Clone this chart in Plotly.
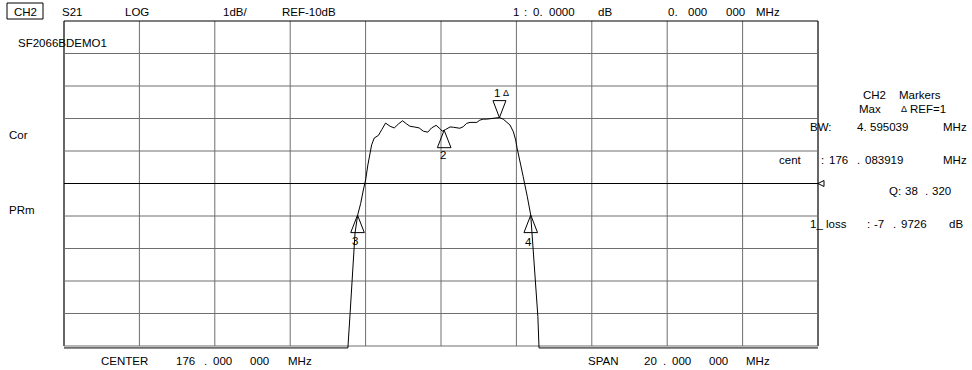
import plotly.graph_objects as go

# ---------------- data ----------------
CENTER_MHZ = 176.0
SPAN_MHZ = 20.0
REF_DB = -10.0
DB_PER_DIV = 1.0

FREQ_MHZ = [166.00, 173.53, 173.59, 173.66, 173.72, 173.79, 173.87, 173.94, 174.00, 174.06,
            174.12, 174.16, 174.23, 174.34, 174.43, 174.53, 174.65, 174.76, 174.87, 174.98,
            175.09, 175.18, 175.29, 175.42, 175.53, 175.65, 175.75, 175.87, 175.97, 176.03,
            176.12, 176.24, 176.33, 176.42, 176.50, 176.59, 176.68, 176.77, 176.86, 176.95,
            177.03, 177.12, 177.21, 177.30, 177.43, 177.55, 177.65, 177.74, 177.83, 177.92,
            177.98, 178.02, 178.07, 178.12, 178.18, 178.23, 178.29, 178.38, 178.41, 178.45,
            178.51, 178.57, 178.60, 186.00]
S21_DB = [-15.06, -15.06, -13.98, -12.45, -11.52, -10.97, -10.61, -10.20, -9.89, -9.43,
          -9.03, -8.81, -8.60, -8.52, -8.34, -8.14, -8.24, -8.29, -8.17, -8.07,
          -8.17, -8.24, -8.26, -8.29, -8.39, -8.42, -8.29, -8.21, -8.31, -8.39,
          -8.34, -8.26, -8.27, -8.28, -8.30, -8.25, -8.15, -8.12, -8.13, -8.12,
          -8.05, -8.02, -8.02, -8.01, -7.98, -7.97, -8.02, -8.10, -8.20, -8.41,
          -8.66, -8.92, -9.15, -9.46, -9.79, -10.05, -10.41, -10.97, -11.52, -12.05,
          -13.07, -14.10, -15.06, -15.06]

MARKER_IDS = ["1", "2", "3", "4"]
MARKER_FREQ = [177.55, 176.084, 173.786, 178.381]
MARKER_DB = [-7.9726, -8.36, -10.9726, -10.9726]

# ---------------- layout geometry ----------------
W, H = 972, 370
PL, PR, PT, PB = 63, 826, 20, 349          # plot area in pixels
GX0, GX1, GY0, GY1 = 64, 818, 21, 346      # graticule in pixels
xs = (GX1 - GX0) / SPAN_MHZ                # px per MHz
ys = (GY1 - GY0) / (10 * DB_PER_DIV)       # px per dB
f0 = CENTER_MHZ - SPAN_MHZ / 2
f1 = CENTER_MHZ + SPAN_MHZ / 2
top_db = REF_DB + 5 * DB_PER_DIV
bot_db = REF_DB - 5 * DB_PER_DIV
xrange = [f0 - (GX0 - PL) / xs, f0 + (PR - GX0) / xs]
yrange = [top_db - (PB - GY0) / ys, top_db + (GY0 - PT) / ys]
x_grid = [f0 + i * SPAN_MHZ / 10 for i in range(11)]
y_grid = [bot_db + i * DB_PER_DIV for i in range(11)]

FONT = "Liberation Sans, Arial, sans-serif"
FS = 11.5
GRID = "#6e6e6e"


def X(p):
    return (p - PL) / (PR - PL)


def Y(p):
    return (PB - p) / (PB - PT)


fig = go.Figure()
fig.add_trace(go.Scatter(x=FREQ_MHZ, y=S21_DB, mode="lines",
                         line=dict(color="black", width=1), hoverinfo="skip"))

shapes = []
# graticule
for gx in x_grid:
    edge = gx in (f0, f1)
    shapes.append(dict(type="line", xref="x", yref="y", x0=gx, x1=gx, y0=bot_db, y1=top_db,
                       line=dict(color="black" if edge else GRID, width=1.2 if edge else 1),
                       layer="between"))
for gy in y_grid:
    strong = gy in (top_db, REF_DB)
    shapes.append(dict(type="line", xref="x", yref="y", x0=f0, x1=f1, y0=gy, y1=gy,
                       line=dict(color="black" if strong else GRID, width=1.2 if strong else 1),
                       layer="between"))

# marker triangles (pixel-sized, anchored on the marker data points)
for mid, mf, md in zip(MARKER_IDS, MARKER_FREQ, MARKER_DB):
    if mid == "1":
        path = "M -6.5 17 L 6.5 17 L 0 0 Z"
    else:
        path = "M -6.8 -17.5 L 6.8 -17.5 L 0 0 Z"
    shapes.append(dict(type="path", xref="x", yref="y", xsizemode="pixel", ysizemode="pixel",
                       xanchor=mf, yanchor=md, path=path,
                       line=dict(color="black", width=1), fillcolor="rgba(0,0,0,0)"))
# reference position marker
shapes.append(dict(type="path", xref="x", yref="y", xsizemode="pixel", ysizemode="pixel",
                   xanchor=f1, yanchor=REF_DB, path="M 0 0 L 6 3 L 6 -3 Z",
                   line=dict(color="black", width=1), fillcolor="rgba(0,0,0,0)"))
# CH2 box
shapes.append(dict(type="rect", xref="paper", yref="paper", x0=X(7), x1=X(43), y0=Y(19), y1=Y(3),
                   line=dict(color="black", width=1)))

TEXTS = [
    ("CH2", 12, 12), ("S21", 60, 12), ("LOG", 123, 12), ("1dB/", 221, 12), ("REF-10dB", 280, 12),
    ("1", 511, 12), (":", 522, 12), ("0.", 531, 12), ("0000", 547, 12), ("dB", 596, 12),
    ("0.", 666, 12), ("000", 686, 12), ("000", 724, 12), ("MHz", 754, 12),
    ("SF2066BDEMO1", 16, 43), ("Cor", 7, 135), ("PRm", 7, 210),
    ("CH2", 861, 95), ("Markers", 897, 95),
    ("Max", 857, 109), ("REF=1", 908, 109),
    ("BW:", 808, 127), ("4.", 855, 127), ("595039", 868, 127), ("MHz", 941, 127),
    ("cent", 777, 160), (":", 819, 160), ("176", 827, 160), (".", 855, 160), ("083919", 863, 160),
    ("MHz", 941, 160),
    ("Q:", 887, 191), ("38", 903, 191), (".", 923, 191), ("320", 930, 191),
    ("1_ loss", 808, 224), (":", 865, 224), ("-7", 872, 224), (".", 891, 224), ("9726", 899, 224),
    ("dB", 947, 224),
    ("CENTER", 99, 361), ("176", 174, 361), (".", 202, 361), ("000", 211, 361), ("000", 248, 361),
    ("MHz", 286, 361),
    ("SPAN", 586, 361), ("20", 642, 361), (".", 661, 361), ("000", 670, 361), ("000", 707, 361),
    ("MHz", 744, 361),
]

annotations = []
for t, xp, yp in TEXTS:
    annotations.append(dict(text=t, x=X(xp), y=Y(yp), xref="paper", yref="paper",
                            xanchor="left", yanchor="middle", showarrow=False,
                            font=dict(family=FONT, size=FS, color="black")))
annotations.append(dict(text="Δ", x=X(899), y=Y(109), xref="paper", yref="paper",
                        xanchor="left", yanchor="middle", showarrow=False,
                        font=dict(family=FONT, size=9, color="black")))

# marker labels (offset in pixels from the marker points)
LABEL_OFFSETS = {"1": (-2, 25), "2": (-1, -25), "3": (-3, -26), "4": (-2, -27)}
for mid, mf, md in zip(MARKER_IDS, MARKER_FREQ, MARKER_DB):
    dx, dy = LABEL_OFFSETS[mid]
    annotations.append(dict(text=mid, x=mf, y=md, xref="x", yref="y", xshift=dx, yshift=dy,
                            xanchor="center", yanchor="middle", showarrow=False,
                            font=dict(family=FONT, size=FS, color="black")))
annotations.append(dict(text="Δ", x=MARKER_FREQ[0], y=MARKER_DB[0], xref="x", yref="y",
                        xshift=7, yshift=25, xanchor="center", yanchor="middle", showarrow=False,
                        font=dict(family=FONT, size=9, color="black")))

fig.update_layout(
    width=W, height=H,
    margin=dict(l=PL, r=W - PR, t=PT, b=H - PB, pad=0),
    paper_bgcolor="white", plot_bgcolor="white",
    showlegend=False,
    xaxis=dict(range=xrange, showticklabels=False, showgrid=False, zeroline=False,
               showline=False, ticks="", fixedrange=True),
    yaxis=dict(range=yrange, showticklabels=False, showgrid=False, zeroline=False,
               showline=False, ticks="", fixedrange=True),
    shapes=shapes,
    annotations=annotations,
)

fig.write_html("out.html", config={"displayModeBar": False},
               post_script="document.body.style.margin='0';document.body.style.overflow='hidden';")
